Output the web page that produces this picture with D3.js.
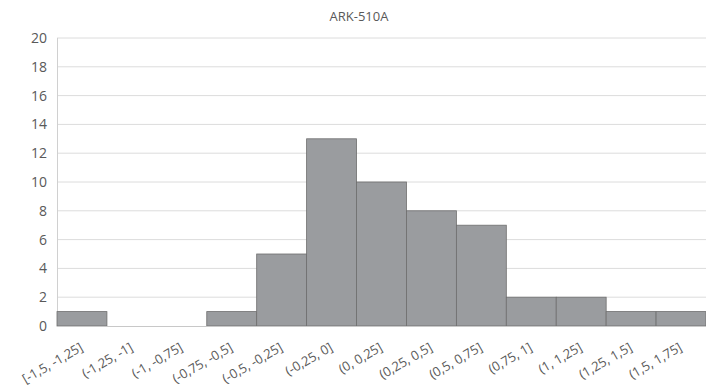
<!DOCTYPE html>
<html><head><meta charset="utf-8">
<script src="https://cdn.jsdelivr.net/npm/d3@7"></script>
<style>body{margin:0;background:#fff}svg{display:block}text{font-family:"Open Sans","Liberation Sans",sans-serif;fill:#595959}</style>
</head><body><svg id="c" width="706" height="390"></svg>
<script>
const title = "ARK-510A";
const categories = ["[-1,5, -1,25]","(-1,25, -1]","(-1, -0,75]","(-0,75, -0,5]","(-0,5, -0,25]","(-0,25, 0]","(0, 0,25]","(0,25, 0,5]","(0,5, 0,75]","(0,75, 1]","(1, 1,25]","(1,25, 1,5]","(1,5, 1,75]"];
const counts = [1,0,0,1,5,13,10,8,7,2,2,1,1];
const yTicks = [0,2,4,6,8,10,12,14,16,18,20];

const svg = d3.select("#c");
const m = {l:57, r:0, t:38, b:64};
const W = 706, H = 390;
const x = d3.scaleBand().domain(categories).range([m.l, W - m.r]).padding(0);
const y = d3.scaleLinear().domain([0,20]).range([H - m.b, m.t]);

svg.append("text").attr("x", 359).attr("y", 21).attr("text-anchor","middle")
  .style("font-size","13px").text(title);

// gridlines
svg.append("g").selectAll("line").data(yTicks.filter(d=>d>0)).join("line")
  .attr("x1", m.l).attr("x2", W).attr("y1", d=>y(d)).attr("y2", d=>y(d))
  .attr("stroke","#dcdcdc").attr("stroke-width",1);
svg.append("line").attr("x1", m.l+0.5).attr("x2", m.l+0.5).attr("y1", y(20)).attr("y2", y(0))
  .attr("stroke","#d0d0d0");

// bars
svg.append("g").selectAll("rect").data(counts).join("rect")
  .attr("x",(d,i)=>x(categories[i])).attr("width",x.bandwidth())
  .attr("y",d=>y(d)).attr("height",d=>y(0)-y(d))
  .attr("fill","#9a9c9f").attr("stroke","#6e6e6e").attr("stroke-width",0.8);

// x axis line
svg.append("line").attr("x1", m.l).attr("x2", W).attr("y1", y(0)+0.5).attr("y2", y(0)+0.5)
  .attr("stroke","#c8c8c8");

// y axis
const ya = d3.axisLeft(y).tickValues(yTicks).tickSize(0).tickPadding(10);
const yg = svg.append("g").attr("transform",`translate(${m.l},0)`).call(ya);
yg.select(".domain").remove();
yg.selectAll("text").style("font-size","14px").style("fill","#595959").attr("font-family",null);

// x axis labels
const xa = d3.axisBottom(x).tickSize(0).tickPadding(0);
const xg = svg.append("g").attr("transform",`translate(0,${y(0)})`).call(xa);
xg.select(".domain").remove();
xg.selectAll("text").style("font-size","13px").style("fill","#595959").attr("font-family",null)
  .attr("text-anchor","end").attr("dy",null).attr("y",0)
  .attr("transform","translate(2,24) rotate(-30)");
</script></body></html>
